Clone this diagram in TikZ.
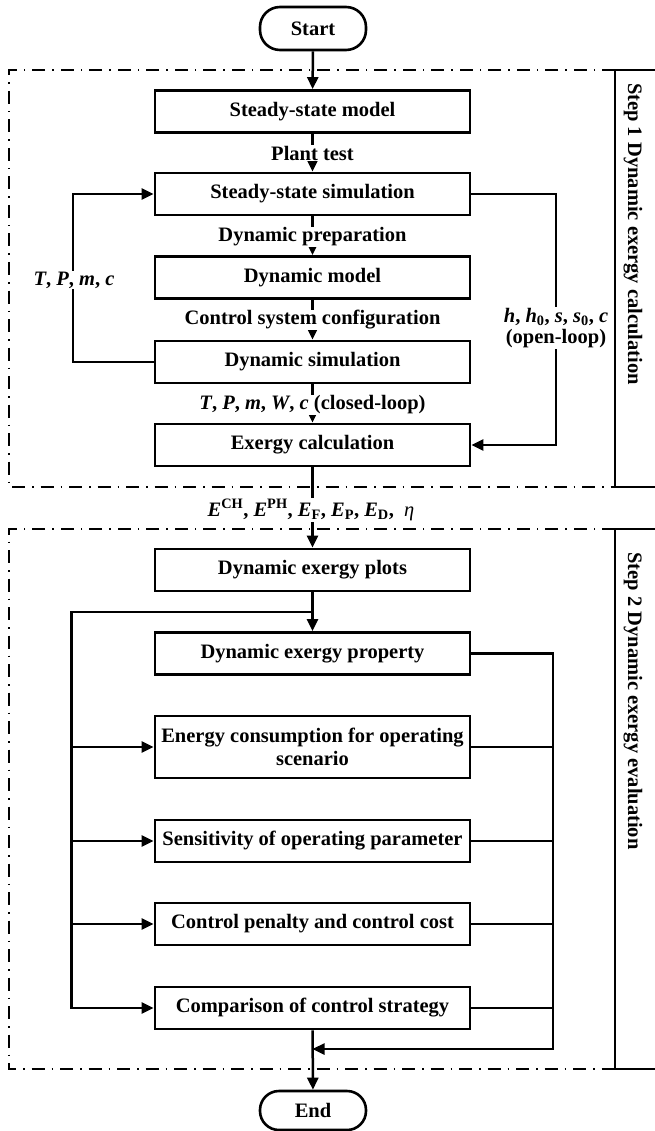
\documentclass[tikz,border=0pt]{standalone}
\usepackage{fontspec}
\setmainfont{Liberation Serif}
\usetikzlibrary{arrows.meta}
\begin{document}
\begin{tikzpicture}[x=1pt,y=-1pt,
  font=\fontsize{20.5}{23}\selectfont\bfseries,
  box/.style={draw,line width=2.8pt,minimum width=315pt,minimum height=42pt,inner sep=2pt,align=center},
  term/.style={draw,line width=2.6pt,rounded corners=20pt,minimum width=106pt,minimum height=43pt},
  conn/.style={line width=2.5pt},
  arr/.style={conn,-{Triangle[length=12pt,width=11pt]}},
  lbl/.style={fill=white,inner sep=1pt,align=center},
  frame/.style={line width=1.4pt,dash pattern=on 13pt off 7pt on 1.5pt off 7pt},
  stepbox/.style={line width=2.8pt}
]
\useasboundingbox (0,0) rectangle (654,1131);

% frames
\draw[frame] (615,70) -- (9,70) -- (9,487) -- (615,487);
\draw[frame] (615,529) -- (9,529) -- (9,1069) -- (615,1069);
\draw[stepbox] (655,70) -- (615,70) -- (615,487) -- (655,487);
\draw[stepbox] (655,529) -- (615,529) -- (615,1069) -- (655,1069);
\node[rotate=-90] (s1) at (633,234) {Step 1 Dynamic exergy calculation};
\node[rotate=-90] (s2) at (633,701) {Step 2 Dynamic exergy evaluation};

% nodes
\node[term] (start) at (313,28.5) {Start};
\node[box] (ssm) at (312.5,111.5) {Steady-state model};
\node[box] (sss) at (312.5,194) {Steady-state simulation};
\node[box] (dm) at (312.5,277.5) {Dynamic model};
\node[box] (ds) at (312.5,362) {Dynamic simulation};
\node[box] (ec) at (312.5,445) {Exergy calculation};
\node[box] (dep) at (312.5,570) {Dynamic exergy plots};
\node[box] (dpr) at (312.5,653.5) {Dynamic exergy property};
\node[box,minimum height=62pt] (ecs) at (312.5,747) {Energy consumption for operating\\scenario};
\node[box] (sop) at (312.5,841) {Sensitivity of operating parameter};
\node[box] (cpc) at (312.5,924) {Control penalty and control cost};
\node[box] (ccs) at (312.5,1008) {Comparison of control strategy};
\node[term,minimum height=39pt,rounded corners=19pt] (end) at (313,1110.5) {End};

% step 1 connectors
\draw[arr] (start) -- (ssm);
\draw[arr] (ssm) -- (sss);
\draw[arr] (sss) -- (dm);
\draw[arr] (dm) -- (ds);
\draw[arr] (ds) -- (ec);
\draw[arr] (ec) -- (dep);
\draw[arr] (ds.west) -| (73,194) -- (sss.west);
\draw[arr] (sss.east) -| (556,445) -- (ec.east);

% labels step 1
\node[lbl] (pt) at (312.5,153) {Plant test};
\node[lbl] (dprep) at (312.5,237) {Dynamic preparation};
\node[lbl] (csc) at (312.5,320) {Control system configuration};
\node[lbl] (cl) at (312.5,405) {\textit{T}, \textit{P}, \textit{m}, \textit{W}, \textit{c} (closed-loop)};
\node[lbl] (tpmc) at (74,280) {\textit{T}, \textit{P}, \textit{m}, \textit{c}};
\node[lbl,font=\fontsize{20.5}{21}\selectfont\bfseries] (hs) at (556,328) {\textit{h}, \textit{h}\textsubscript{0}, \textit{s}, \textit{s}\textsubscript{0}, \textit{c}\\(open-loop)};
\node[lbl] (exl) at (311,510) {\textit{E}\textsuperscript{CH}, \textit{E}\textsuperscript{PH}, \textit{E}\textsubscript{F}, \textit{E}\textsubscript{P}, \textit{E}\textsubscript{D},\ \ {\mdseries\itshape η}};

% step 2 connectors
\coordinate (j) at (312.5,612);
\coordinate (m) at (312.5,1049);
\coordinate (rb) at (553,1049);
\draw[arr] (dep) -- (dpr);
\draw[arr] (j) -| ([xshift=-82pt]ccs.west) -- (ccs.west);
\draw[arr] ([xshift=-82pt]ecs.west) -- (ecs.west);
\draw[arr] ([xshift=-82pt]sop.west) -- (sop.west);
\draw[arr] ([xshift=-82pt]cpc.west) -- (cpc.west);
\draw[arr] (dpr.east) -| (rb) -- (m);
\draw[conn] (ecs.east) -- (ecs.east -| rb);
\draw[conn] (sop.east) -- (sop.east -| rb);
\draw[conn] (cpc.east) -- (cpc.east -| rb);
\draw[conn] (ccs.east) -- (ccs.east -| rb);
\draw[arr] (ccs) -- (end);
\end{tikzpicture}
\end{document}
